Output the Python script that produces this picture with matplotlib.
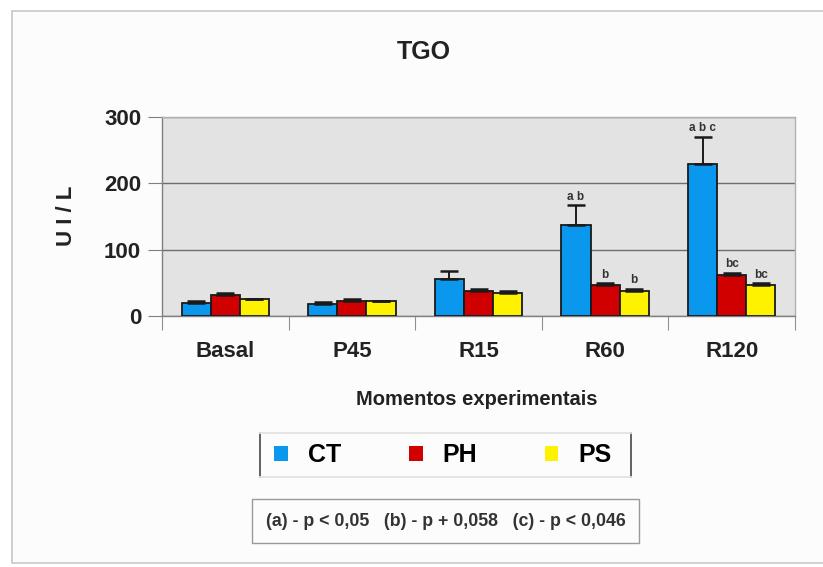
import matplotlib.pyplot as plt
import numpy as np
from matplotlib.lines import Line2D
from matplotlib.patches import Patch, Rectangle

plt.rcParams["font.family"] = ["Liberation Sans", "DejaVu Sans"]

moments = ["Basal", "P45", "R15", "R60", "R120"]
groups = ["CT", "PH", "PS"]
ct_mean = [20, 18, 56, 137, 229]
ph_mean = [31, 22, 38, 46, 62]
ps_mean = [25, 22, 35, 38, 46]
ct_err = [3, 3, 12, 30, 41]
ph_err = [4, 3, 3, 3, 3]
ps_err = [1, 1, 3, 3, 3]
ct_marks = ["", "", "", "a b", "a b c"]
ph_marks = ["", "", "", "b", "bc"]
ps_marks = ["", "", "", "b", "bc"]
footnote = "(a) - p < 0,05   (b) - p + 0,058   (c) - p < 0,046"

colors = ["#0A97EE", "#D10000", "#FFF200"]

fig = plt.figure(figsize=(8.23, 5.67), dpi=100)
fig.patch.set_facecolor("white")

# light panel frame around the whole chart
fig.add_artist(Rectangle((12 / 823, 1 - 563 / 567), 1.0, (563 - 11) / 567,
                         transform=fig.transFigure, facecolor="#FCFCFC",
                         edgecolor="#C8C8C8", lw=1.2, zorder=-5))

ax = fig.add_axes([162 / 823, 1 - 316 / 567, (795 - 162) / 823, (316 - 117) / 567])
ax.set_facecolor("#E3E3E3")

x = np.arange(len(moments))
w = 0.23
means = [ct_mean, ph_mean, ps_mean]
errs = [ct_err, ph_err, ps_err]
marks = [ct_marks, ph_marks, ps_marks]
for i, (m, e, lab, c) in enumerate(zip(means, errs, marks, colors)):
    pos = x + (i - 1) * w
    ax.bar(pos, m, width=w, color=c, edgecolor="#1A1A1A", lw=1.3, zorder=3)
    ax.errorbar(pos, m, yerr=[np.zeros(len(e)), e], fmt="none", ecolor="#1A1A1A",
                elinewidth=1.4, capsize=6.3, capthick=1.8, zorder=4)
    for p, v, err, t in zip(pos, m, e, lab):
        if t:
            ax.text(p, v + err + 4, t, ha="center", va="bottom", fontsize=8.5,
                    fontweight="bold", color="#333333", zorder=5)

ax.set_xlim(-0.5, len(moments) - 0.5)
ax.set_ylim(0, 300)
ax.set_yticks([0, 100, 200, 300])
ax.set_yticklabels(["0", "100", "200", "300"], fontsize=16, fontweight="bold", color="#222222")
ax.yaxis.grid(True, color="#6E6E6E", lw=1.0, zorder=1)
ax.set_axisbelow(True)
ax.tick_params(axis="y", length=10, color="#808080", pad=5)

# ticks sit at the category boundaries, labels at the centres
ax.set_xticks(np.arange(len(moments) + 1) - 0.5)
ax.set_xticklabels([])
ax.set_xticks(x, minor=True)
ax.set_xticklabels(moments, minor=True, fontsize=16, fontweight="bold", color="#222222")
ax.tick_params(axis="x", which="major", length=10, color="#909090")
ax.tick_params(axis="x", which="minor", length=0, pad=18)

for side in ["left", "bottom"]:
    ax.spines[side].set_color("#808080")
    ax.spines[side].set_linewidth(1.0)
for side in ["top", "right"]:
    ax.spines[side].set_color("#B0B0B0")
    ax.spines[side].set_linewidth(1.0)

ax.set_ylabel("U I / L", fontsize=16, fontweight="bold", color="#222222")
ax.yaxis.set_label_coords(-0.135, 0.505)
ax.set_xlabel("Momentos experimentais", fontsize=14.5, fontweight="bold", color="#222222")
ax.xaxis.set_label_coords(0.498, -0.37)

fig.text(424 / 823, 1 - 52 / 567, "TGO", ha="center", va="center",
         fontsize=18, fontweight="bold", color="#222222")

# legend box: dark sides, faint top and bottom
lx0, lx1, ly0, ly1 = 260 / 823, 631 / 823, 1 - 477 / 567, 1 - 433 / 567
for xs, ys, col in [([lx0, lx0], [ly0, ly1], "#555555"), ([lx1, lx1], [ly0, ly1], "#555555"),
                    ([lx0, lx1], [ly1, ly1], "#E2E2E2"), ([lx0, lx1], [ly0, ly0], "#E2E2E2")]:
    fig.add_artist(Line2D(xs, ys, transform=fig.transFigure, color=col, lw=1.3))
handles = [Patch(facecolor=c, edgecolor="none", label=g) for g, c in zip(groups, colors)]
fig.legend(handles=handles, loc="center", bbox_to_anchor=((lx0 + lx1) / 2 - 0.003, (ly0 + ly1) / 2),
           ncol=3, frameon=False, handlelength=0.55, handleheight=0.55, handletextpad=0.8,
           columnspacing=2.7, prop={"size": 18, "weight": "bold"})

fig.add_artist(Rectangle((252 / 823, 1 - 543 / 567), (639 - 252) / 823, (543 - 499) / 567,
                         transform=fig.transFigure, facecolor="none",
                         edgecolor="#9A9A9A", lw=1.0))
fig.text(446 / 823, 1 - 521 / 567, footnote, ha="center", va="center",
         fontsize=12.8, fontweight="bold", color="#333333")

fig.savefig("out.png", dpi=100, facecolor="white")
